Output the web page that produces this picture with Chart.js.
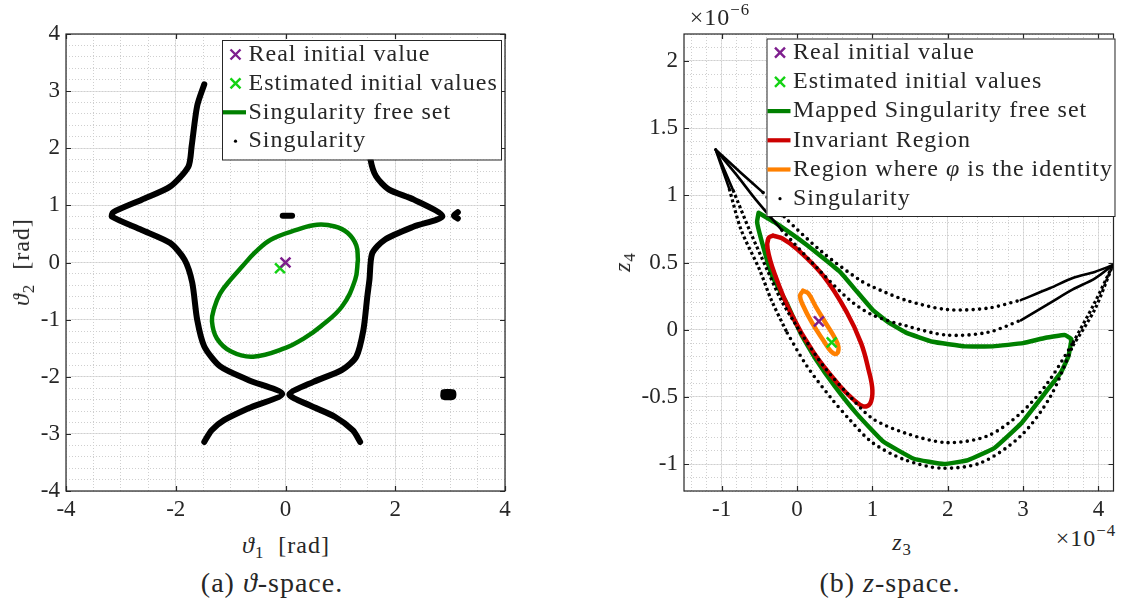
<!DOCTYPE html>
<html>
<head>
<meta charset="utf-8">
<title>Singularity free sets</title>
<script src="https://cdn.jsdelivr.net/npm/chart.js@4.4.1/dist/chart.umd.min.js"></script>
<style>
  html, body { margin: 0; padding: 0; background: #fff; }
  body { position: relative; width: 1123px; height: 608px; overflow: hidden; color: #262626; }
  canvas { position: absolute; top: 0; }
  .txt { position: absolute; white-space: nowrap; font-family: "Liberation Serif", serif; font-size: 24px; line-height: 1; letter-spacing: 1px; transform: translate(-50%, -50%); }
  .txt sub { font-size: 70%; vertical-align: -0.3em; line-height: 0; }
  .txt sup { font-size: 70%; vertical-align: 0.6em; line-height: 0; }
  .cap { font-size: 28px; }
  .rot { transform: translate(-50%, -50%) rotate(-90deg); }
</style>
</head>
<body>
<canvas id="grafTheta" width="560" height="520" style="left:0"></canvas>
<canvas id="grafZ" width="563" height="520" style="left:560px"></canvas>

<div class="txt" style="left:286px;top:545px"><i>ϑ</i><sub>1</sub>&nbsp; [rad]</div>
<div class="txt rot" style="left:21px;top:262px"><i>ϑ</i><sub>2</sub>&nbsp; [rad]</div>
<div class="txt cap" style="left:272px;top:583px">(a) <i>ϑ</i>-space.</div>

<div class="txt" style="left:902px;top:542px"><i>z</i><sub>3</sub></div>
<div class="txt rot" style="left:622px;top:262px"><i>z</i><sub>4</sub></div>
<div class="txt cap" style="left:890px;top:583px">(b) <i>z</i>-space.</div>
<div class="txt" style="left:720px;top:17px">×10<sup>−6</sup></div>
<div class="txt" style="left:1086px;top:538px">×10<sup>−4</sup></div>

<script>
// ---------- (a) theta space ----------
const thetaTicksX = [-4, -2, 0, 2, 4];
const thetaTicksY = [-4, -3, -2, -1, 0, 1, 2, 3, 4];
const thetaLegend = ['Real initial value', 'Estimated initial values', 'Singularity free set', 'Singularity'];

const thetaReal = [[0, 0]];
const thetaEstimated = [[-0.1, -0.1]];
const thetaFreeSet = [
  [1.32, 0.05], [1.29, 0.3], [1.13, 0.52], [0.9, 0.63], [0.575, 0.66], [0.2, 0.57],
  [-0.27, 0.4], [-0.55, 0.18], [-0.79, -0.07], [-1.0, -0.3], [-1.19, -0.54], [-1.3, -0.8],
  [-1.34, -1.03], [-1.25, -1.33], [-0.99, -1.56], [-0.59, -1.65], [-0.01, -1.5], [0.35, -1.32],
  [0.64, -1.12], [1.03, -0.77], [1.27, -0.3], [1.32, 0.05]
];
const thetaSingLeft = [
  [-1.48, 3.12], [-1.61, 2.74], [-1.71, 2.04], [-1.77, 1.68], [-2.1, 1.33], [-2.62, 1.1],
  [-3.14, 0.88], [-3.16, 0.8], [-2.62, 0.57], [-2.1, 0.34], [-1.84, 0.05], [-1.7, -0.35],
  [-1.61, -1.0], [-1.48, -1.47], [-1.19, -1.82], [-0.67, -2.06], [-0.06, -2.3], [-0.67, -2.55],
  [-1.12, -2.76], [-1.35, -2.94], [-1.48, -3.14]
];
const thetaSingRight = [
  [1.36, -3.14], [1.23, -2.94], [0.9, -2.7], [0.44, -2.5], [0.07, -2.31], [0.51, -2.09],
  [1.03, -1.88], [1.29, -1.65], [1.42, -1.18], [1.49, -0.6], [1.53, -0.3], [1.58, 0.16],
  [1.81, 0.4], [2.34, 0.63], [2.86, 0.81], [2.34, 1.1], [1.88, 1.28], [1.65, 1.51],
  [1.55, 1.8], [1.5, 2.3], [1.45, 2.8], [1.4, 3.1]
];
const thetaSingSpot1 = [[-0.05, 0.82], [0.12, 0.82]];
const thetaSingSpot2 = [[3.14, 0.88], [3.07, 0.82], [3.14, 0.77]];
const thetaSingSpot3 = [[2.88, -2.27], [3.05, -2.27], [3.05, -2.35], [2.88, -2.35], [2.88, -2.27]];

// ---------- (b) z space (z3 in 1e-4, z4 in 1e-6) ----------
const zTicksX = [-1, 0, 1, 2, 3, 4];
const zTicksY = [-1, -0.5, 0, 0.5, 1, 1.5, 2];
const zLegend = ['Real initial value', 'Estimated initial values', 'Mapped Singularity free set',
  'Invariant Region', 'Region where $φ$ is the identity', 'Singularity'];

const zReal = [[0.29, 0.062]];
const zEstimated = [[0.46, -0.094]];
const zFreeSet = [
  [-0.51, 0.87], [-0.3, 0.8], [0.13, 0.63], [0.57, 0.43], [0.8, 0.28], [1.0, 0.15],
  [1.2, 0.06], [1.44, -0.02], [1.8, -0.09], [2.23, -0.124], [2.6, -0.124], [3.0, -0.1],
  [3.3, -0.06], [3.55, -0.04], [3.64, -0.07], [3.6, -0.2], [3.5, -0.32], [3.32, -0.45],
  [2.97, -0.7], [2.62, -0.88], [2.27, -0.97], [1.95, -1.0], [1.55, -0.96], [1.14, -0.83],
  [0.8, -0.63], [0.5, -0.42], [0.25, -0.22], [0.05, -0.03], [-0.14, 0.2], [-0.33, 0.4],
  [-0.45, 0.62], [-0.53, 0.8], [-0.51, 0.87]
];
const zInvariant = [
  [-0.32, 0.7], [-0.2, 0.68], [0.0, 0.6], [0.35, 0.4], [0.66, 0.13], [0.85, -0.1],
  [0.95, -0.3], [1.0, -0.45], [0.97, -0.55], [0.88, -0.57], [0.75, -0.52], [0.57, -0.42],
  [0.22, -0.17], [-0.08, 0.12], [-0.3, 0.42], [-0.39, 0.6], [-0.38, 0.68], [-0.32, 0.7]
];
const zIdentity = [
  [0.08, 0.29], [0.15, 0.27], [0.25, 0.17], [0.38, 0.05], [0.5, -0.06], [0.55, -0.13],
  [0.52, -0.18], [0.45, -0.16], [0.35, -0.08], [0.2, 0.05], [0.08, 0.18], [0.04, 0.25], [0.08, 0.29]
];
const zSingA = [
  [-1.08, 1.34], [-0.75, 1.17], [-0.45, 1.02], [-0.17, 0.84], [0.35, 0.57], [0.83, 0.37],
  [1.0, 0.32], [1.44, 0.22], [1.99, 0.15], [2.53, 0.16], [2.97, 0.22], [3.36, 0.31],
  [3.66, 0.385], [3.95, 0.43], [4.19, 0.48]
];
const zSingB = [
  [-1.08, 1.34], [-0.8, 1.15], [-0.55, 0.97], [-0.2, 0.74], [0.3, 0.44], [0.7, 0.22],
  [1.0, 0.11], [1.44, 0.03], [1.99, -0.04], [2.53, -0.02], [2.97, 0.07], [3.36, 0.2],
  [3.66, 0.3], [3.95, 0.38], [4.19, 0.48]
];
const zSingC = [
  [-1.08, 1.34], [-0.85, 1.04], [-0.63, 0.74], [-0.4, 0.45], [-0.21, 0.22], [0.05, -0.025],
  [0.35, -0.27], [0.66, -0.47], [1.0, -0.66], [1.44, -0.77], [1.99, -0.84], [2.53, -0.79],
  [2.97, -0.62], [3.32, -0.4], [3.66, -0.1], [3.95, 0.2], [4.19, 0.48]
];
const zSingD = [
  [-1.08, 1.34], [-0.9, 1.05], [-0.74, 0.74], [-0.5, 0.45], [-0.34, 0.22], [-0.13, -0.025],
  [0.13, -0.27], [0.44, -0.5], [0.7, -0.67], [1.0, -0.84], [1.44, -0.97], [1.92, -1.03],
  [2.44, -0.99], [2.97, -0.79], [3.36, -0.5], [3.66, -0.12], [3.95, 0.15], [4.19, 0.48]
];
const zSingSpot = [[3.56, 0.037]];
// which stretch of each curve is dense (solid), dashed or sparse (dotted)
const zSingParts = [
  [zSingA, 0, 3, 'solid'], [zSingA, 2, 11, 'dot'], [zSingA, 10, 15, 'solid'],
  [zSingB, 0, 4, 'solid'], [zSingB, 3, 11, 'dot'], [zSingB, 10, 15, 'solid'],
  [zSingC, 0, 2, 'solid'], [zSingC, 1, 6, 'dash'], [zSingC, 5, 15, 'dot'], [zSingC, 14, 17, 'dash'],
  [zSingD, 0, 2, 'solid'], [zSingD, 1, 6, 'dash'], [zSingD, 5, 16, 'dot'], [zSingD, 15, 18, 'dash']
];

// ---------- styles ----------
const FONT = '"Liberation Serif", serif';
const INK = '#262626';
const PURPLE = '#7e1e8e';
const LIME = '#14d214';
const GREEN = '#008000';
const RED = '#cc0000';
const ORANGE = '#ff8000';

const pts = a => a.map(([x, y]) => ({ x, y }));

function markSet(data, color) {
  return { data: pts(data), showLine: false, pointStyle: 'crossRot', pointRadius: 7,
    pointBorderWidth: 2.5, borderColor: color, backgroundColor: color };
}
function lineSet(data, color, width, extra) {
  return Object.assign({ data: pts(data), showLine: true, borderColor: color, borderWidth: width,
    pointRadius: 0, pointHoverRadius: 0, tension: 0.3, fill: false,
    borderCapStyle: 'round', borderJoinStyle: 'round' }, extra || {});
}
const singStyle = {
  solid: { borderWidth: 2.6 },
  dash: { borderWidth: 3.2, borderDash: [3, 2.6], borderCapStyle: 'butt' },
  dot: { borderWidth: 3.6, borderDash: [0, 6.4] }
};

function mainScale(pos, min, max, ticks, size) {
  const horiz = pos === 'bottom';
  return {
    type: 'linear', position: pos, min, max,
    afterBuildTicks: s => { s.ticks = ticks.map(v => ({ value: v })); },
    afterFit: s => {
      if (horiz) { s.height = size; s.paddingLeft = 0; s.paddingRight = 0; }
      else { s.width = size; s.paddingTop = 0; s.paddingBottom = 0; }
    },
    grid: { color: '#e1e1e1', lineWidth: 1, drawTicks: false },
    border: { display: false },
    ticks: { autoSkip: false, maxRotation: 0, padding: horiz ? 5 : 6, color: INK,
      font: { family: FONT, size: 23 }, callback: v => String(v) }
  };
}
function minorScale(pos, min, max, step) {
  const vals = [];
  for (let k = Math.ceil(min / step - 1e-9); k * step <= max + 1e-9; k++) vals.push(+(k * step).toFixed(4));
  return {
    type: 'linear', position: pos, min, max,
    afterBuildTicks: s => { s.ticks = vals.map(v => ({ value: v })); },
    afterFit: s => { if (pos === 'top') s.height = 0; else s.width = 0; },
    grid: { color: '#cfcfcf', lineWidth: 1, drawTicks: false },
    border: { display: false, dash: [1, 2] },
    ticks: { display: false, autoSkip: false }
  };
}

// box around the axes with inward tick marks
const boxFrame = {
  id: 'boxFrame',
  afterDatasetsDraw(chart) {
    const { ctx, chartArea: a, scales } = chart;
    ctx.save();
    ctx.strokeStyle = INK;
    ctx.lineWidth = 1.2;
    ctx.beginPath();
    scales.x.ticks.forEach(t => {
      const p = Math.round(scales.x.getPixelForValue(t.value)) + 0.5;
      ctx.moveTo(p, a.bottom); ctx.lineTo(p, a.bottom - 5);
      ctx.moveTo(p, a.top); ctx.lineTo(p, a.top + 5);
    });
    scales.y.ticks.forEach(t => {
      const p = Math.round(scales.y.getPixelForValue(t.value)) + 0.5;
      ctx.moveTo(a.left, p); ctx.lineTo(a.left + 5, p);
      ctx.moveTo(a.right, p); ctx.lineTo(a.right - 5, p);
    });
    ctx.stroke();
    ctx.strokeRect(a.left, a.top, a.right - a.left, a.bottom - a.top);
    ctx.restore();
  }
};

// legend drawn inside the plot, MATLAB style
const boxLegend = {
  id: 'boxLegend',
  afterDraw(chart, args, o) {
    if (!o.items) return;
    const ctx = chart.ctx;
    ctx.save();
    ctx.fillStyle = '#fff';
    ctx.fillRect(o.x, o.y, o.w, o.h);
    ctx.strokeStyle = INK;
    ctx.lineWidth = 1;
    ctx.strokeRect(o.x + 0.5, o.y + 0.5, o.w, o.h);
    o.items.forEach((it, i) => {
      const cy = o.y + o.first + i * o.step;
      const sx = o.x + 13.5;
      ctx.strokeStyle = it.color;
      ctx.fillStyle = it.color;
      ctx.setLineDash([]);
      if (it.kind === 'cross') {
        ctx.lineWidth = 2.4;
        ctx.beginPath();
        ctx.moveTo(sx - 5, cy - 5); ctx.lineTo(sx + 5, cy + 5);
        ctx.moveTo(sx - 5, cy + 5); ctx.lineTo(sx + 5, cy - 5);
        ctx.stroke();
      } else if (it.kind === 'line') {
        ctx.lineWidth = 4.2;
        ctx.beginPath();
        ctx.moveTo(o.x + 1, cy); ctx.lineTo(o.x + 24, cy);
        ctx.stroke();
      } else {
        ctx.beginPath();
        ctx.arc(sx, cy, 1.6, 0, Math.PI * 2);
        ctx.fill();
      }
      ctx.fillStyle = INK;
      ctx.textBaseline = 'middle';
      ctx.letterSpacing = o.spacing;
      let tx = o.x + 26.5;
      it.label.split('$').forEach((part, k) => {
        ctx.font = (k % 2 ? 'italic ' : '') + o.size + 'px ' + FONT;
        ctx.fillText(part, tx, cy);
        tx += ctx.measureText(part).width;
      });
    });
    ctx.restore();
  }
};

const common = {
  responsive: false,
  animation: false,
  events: []
};

// ---------- chart (a) ----------
const ctxTheta = document.getElementById('grafTheta').getContext('2d');
const thetaKinds = [['cross', PURPLE], ['cross', LIME], ['line', GREEN], ['dot', '#000']];
new Chart(ctxTheta, {
  type: 'scatter',
  data: {
    datasets: [
      markSet(thetaReal, PURPLE),
      markSet(thetaEstimated, LIME),
      lineSet(thetaFreeSet, GREEN, 4.5, { tension: 0.4 }),
      ...[thetaSingLeft, thetaSingRight, thetaSingSpot1, thetaSingSpot2, thetaSingSpot3]
        .map(d => lineSet(d, '#000', 6, { tension: 0.25 }))
    ]
  },
  options: Object.assign({}, common, {
    layout: { padding: { left: 0, top: 34, right: 55, bottom: 0 } },
    plugins: {
      legend: { display: false },
      tooltip: { enabled: false },
      boxLegend: {
        x: 222, y: 40, w: 279, h: 119.5, first: 14.5, step: 28.9, size: 24, spacing: '1px',
        items: thetaLegend.map((label, i) => ({ label, kind: thetaKinds[i][0], color: thetaKinds[i][1] }))
      }
    },
    scales: {
      x: mainScale('bottom', -4, 4, thetaTicksX, 29),
      y: mainScale('left', -4, 4, thetaTicksY, 66),
      xMinor: minorScale('top', -4, 4, 0.5),
      yMinor: minorScale('right', -4, 4, 0.2)
    }
  }),
  plugins: [boxFrame, boxLegend]
});

// ---------- chart (b) ----------
const ctxZ = document.getElementById('grafZ').getContext('2d');
const zKinds = [['cross', PURPLE], ['cross', LIME], ['line', GREEN], ['line', RED], ['line', ORANGE], ['dot', '#000']];
new Chart(ctxZ, {
  type: 'scatter',
  data: {
    datasets: [
      markSet(zReal, PURPLE),
      markSet(zEstimated, LIME),
      lineSet(zSingSpot, '#000', 4),
      ...zSingParts.map(([curve, a, b, kind]) => lineSet(curve.slice(a, b), '#000', 3, Object.assign({ tension: 0.3 }, singStyle[kind]))),
      lineSet(zIdentity, ORANGE, 4.5, { tension: 0.4 }),
      lineSet(zInvariant, RED, 4.5, { tension: 0.4 }),
      lineSet(zFreeSet, GREEN, 4.5, { tension: 0.1 })
    ]
  },
  options: Object.assign({}, common, {
    layout: { padding: { left: 0, top: 34, right: 3, bottom: 0 } },
    plugins: {
      legend: { display: false },
      tooltip: { enabled: false },
      boxLegend: {
        x: 206.5, y: 38.5, w: 348, h: 177.5, first: 14.2, step: 29.2, size: 24, spacing: '1px',
        items: zLegend.map((label, i) => ({ label, kind: zKinds[i][0], color: zKinds[i][1] }))
      }
    },
    scales: {
      x: mainScale('bottom', -1.5, 4.2, zTicksX, 29),
      y: mainScale('left', -1.2, 2.2, zTicksY, 124),
      xMinor: minorScale('top', -1.5, 4.2, 0.2),
      yMinor: minorScale('right', -1.2, 2.2, 0.1)
    }
  }),
  plugins: [boxFrame, boxLegend]
});
</script>
</body>
</html>
